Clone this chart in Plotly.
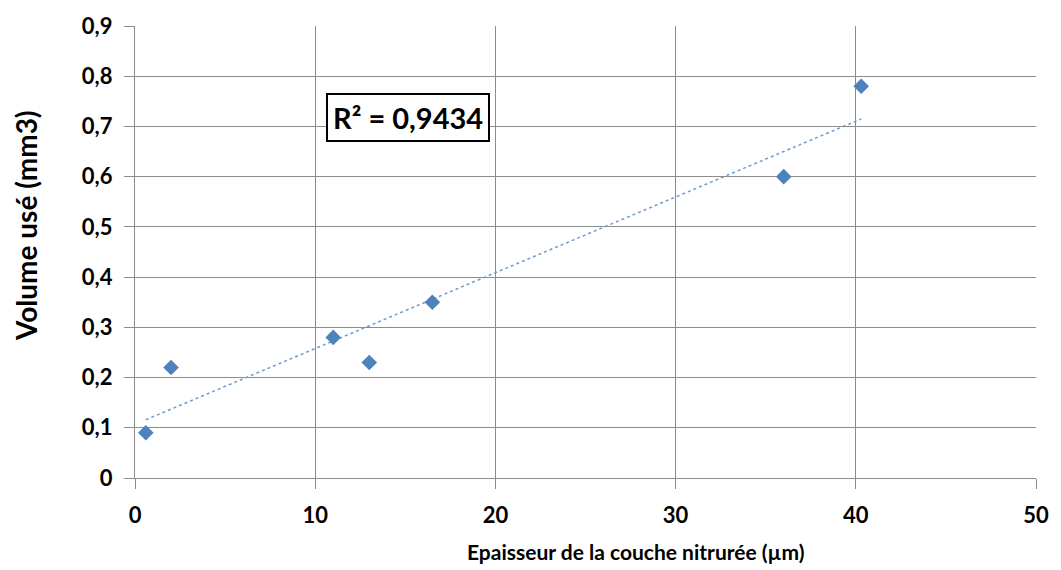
import numpy as np
import plotly.graph_objects as go

# Nitrided layer thickness (µm) vs. worn volume (mm3)
epaisseur = [0.6, 2.0, 11.0, 13.0, 16.5, 36.0, 40.3]
volume = [0.09, 0.22, 0.28, 0.23, 0.35, 0.60, 0.78]
r2_label = "R² = 0,9434"

x_ticks = [0, 10, 20, 30, 40, 50]
y_ticks = [0, 0.1, 0.2, 0.3, 0.4, 0.5, 0.6, 0.7, 0.8, 0.9]
y_tick_text = ["0", "0,1", "0,2", "0,3", "0,4", "0,5", "0,6", "0,7", "0,8", "0,9"]

# Linear least-squares trend line across the data range
slope, intercept = np.polyfit(epaisseur, volume, 1)
trend_x = [min(epaisseur), max(epaisseur)]
trend_y = [slope * v + intercept for v in trend_x]

blue = "#4F81BD"
grid = "#8C8C8C"
font_family = "Lato, Calibri, Carlito, sans-serif"

fig = go.Figure()
fig.add_trace(go.Scatter(
    x=trend_x, y=trend_y, mode="lines",
    line=dict(color="#6E9AD0", width=1.5, dash="dot"),
    hoverinfo="skip", showlegend=False,
))
fig.add_trace(go.Scatter(
    x=epaisseur, y=volume, mode="markers",
    marker=dict(symbol="diamond", size=12, color=blue, line=dict(width=0)),
    showlegend=False,
))

axis_common = dict(
    showgrid=True, gridcolor=grid, gridwidth=1.3,
    showline=True, linecolor=grid, linewidth=1.3,
    ticks="outside", ticklen=10, tickcolor=grid, tickwidth=1.3,
    zeroline=False,
    tickfont=dict(family=font_family, size=22, color="#000000", weight="bold"),
)

fig.update_xaxes(range=[0, 50], tickvals=x_ticks, ticklabelstandoff=7, **axis_common)
fig.update_yaxes(range=[0, 0.9], tickvals=y_ticks, ticktext=y_tick_text,
                 ticklabelstandoff=7, **axis_common)

# Plot area in pixels, used to place the titles and the R² box
left, right, top, bottom = 135, 19, 22, 92
pw, ph = 1061 - left - right, 570 - top - bottom
y0_px = 570 - bottom


def px(xp, yp):
    return (xp - left) / pw, (y0_px - yp) / ph


ax, ay = px(639, 552)
fig.add_annotation(
    x=ax, y=ay, xref="paper", yref="paper", xanchor="center", yanchor="middle",
    text="Epaisseur de la couche nitrurée (µm)", showarrow=False,
    font=dict(family=font_family, size=21, color="#000000", weight="bold"),
)

ax, ay = px(26, 223)
fig.add_annotation(
    x=ax, y=ay, xref="paper", yref="paper", xanchor="center", yanchor="middle",
    text="Volume usé (mm3)", textangle=-90, showarrow=False,
    font=dict(family=font_family, size=28, color="#000000", weight="bold"),
)

ax, ay = px(327, 90)
fig.add_annotation(
    x=ax, y=ay, xref="paper", yref="paper", xanchor="left", yanchor="top",
    text=r2_label, showarrow=False,
    font=dict(family=font_family, size=29, color="#000000", weight="bold"),
    bordercolor="#000000", borderwidth=2, borderpad=5, bgcolor="#FFFFFF",
)

fig.update_layout(
    width=1061, height=570,
    margin=dict(l=left, r=right, t=top, b=bottom),
    plot_bgcolor="#FFFFFF", paper_bgcolor="#FFFFFF",
    font=dict(family=font_family, color="#000000"),
)

fig.write_html("out.html")
